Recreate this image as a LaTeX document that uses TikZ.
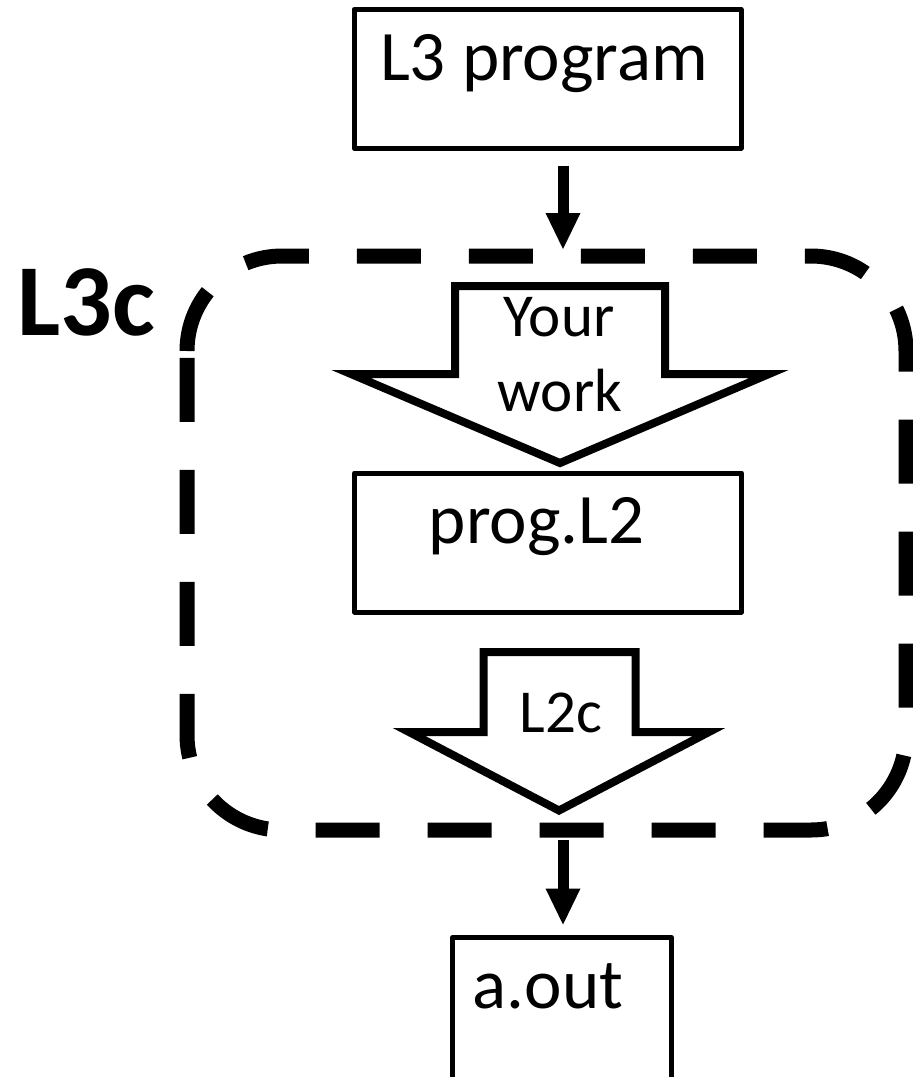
\documentclass[tikz,border=0pt]{standalone}
\usepackage{fontspec}
\setmainfont{Carlito}
\usetikzlibrary{arrows.meta}
\begin{document}
\begin{tikzpicture}[x=1pt,y=1pt,
  box/.style={draw, line width=5pt, line join=round, inner sep=0pt},
  blockarrow/.style={draw, line width=8pt, line join=miter},
  frame/.style={draw, line width=15pt, dash pattern=on 64pt off 48pt},
  flow/.style={line width=11pt, -{Triangle[width=35pt,length=36pt,line width=0pt]}},
  boxtxt/.style={font=\fontsize{71}{80}\selectfont, anchor=base, inner sep=0pt},
  arrtxt/.style={font=\fontsize{61}{70}\selectfont, anchor=base, inner sep=0pt},
  titletxt/.style={font=\bfseries\fontsize{102}{110}\selectfont, anchor=base, inner sep=0pt}]
\useasboundingbox (0,0) rectangle (913,-1077);

% boxes
\node[box, minimum width=387pt, minimum height=138.5pt] (l3) at (547.5,-78.75) {};
\node[boxtxt] (l3t) at (544,-80) {L3 program};

\node[box, minimum width=387pt, minimum height=139pt] (pl2) at (548,-542.5) {};
\node[boxtxt] (pl2t) at (536.5,-543) {prog.L2};

\node[box, minimum width=219pt, minimum height=152.5pt] (aout) at (562,-1013.75) {};
\node[boxtxt] (aoutt) at (548,-1008) {a.out};

% dashed frame (L3c)
\draw[frame] (187,-351) arc (180:90:95pt) -- (811,-256) arc (90:0:95pt)
  -- (906,-735) arc (0:-90:95pt) -- (282,-830) arc (270:180:95pt) -- cycle;
\node[titletxt] (l3c) at (86,-335) {L3c};

% block arrow "Your work"
\draw[blockarrow] (455,-286) -- (665,-286) -- (665,-374) -- (769,-374)
  -- (560,-463) -- (351,-374) -- (455,-374) -- cycle;
\node[arrtxt] (yw1) at (559,-336) {Your};
\node[arrtxt] (yw2) at (560,-411) {work};

% block arrow "L2c"
\draw[blockarrow] (483.5,-652) -- (635.5,-652) -- (635.5,-732) -- (709,-732)
  -- (559,-810.5) -- (409,-732) -- (483.5,-732) -- cycle;
\node[arrtxt] (l2c) at (561,-732) {L2c};

% connectors
\coordinate (a1e) at (563,-249);
\coordinate (a2s) at (563,-840);
\draw[flow] ([xshift=15.5pt,yshift=-15pt]l3.south) -- (a1e);
\draw[flow] (a2s) -- ([xshift=1pt,yshift=10.5pt]aout.north);
\end{tikzpicture}
\end{document}
